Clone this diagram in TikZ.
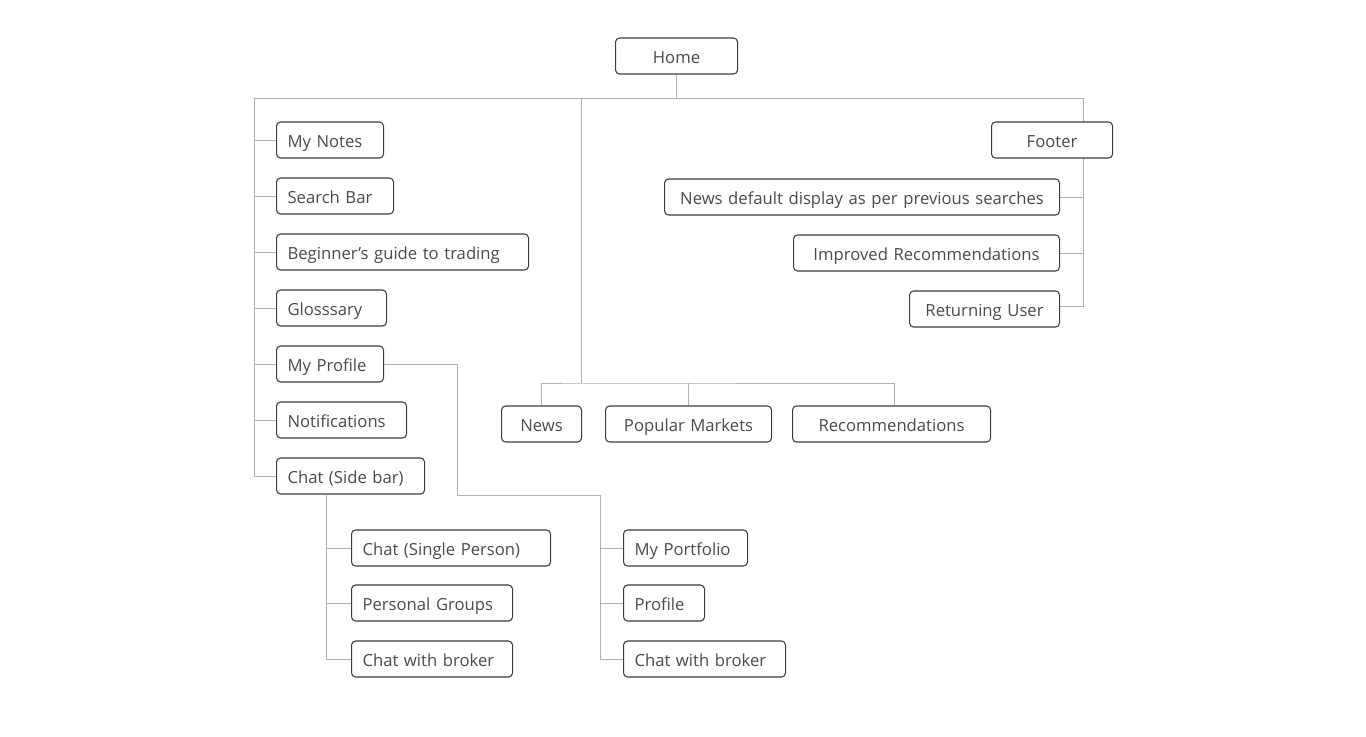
\documentclass[tikz,border=0pt]{standalone}
\usepackage{fontspec}
\setmainfont{Open Sans}
\usetikzlibrary{backgrounds}

\definecolor{boxline}{HTML}{3C3C3C}
\definecolor{wirecol}{HTML}{B0B0B0}
\definecolor{labeltxt}{HTML}{4A4A4A}

\tikzset{
    page/.style={draw=boxline, line width=0.8pt, rounded corners=3pt, fill=white,
        text=labeltxt, minimum height=27pt, inner xsep=8.25pt, inner ysep=0pt,
        text height=10.5pt, text depth=0pt,
        anchor=west, align=left, font=\fontsize{12.5}{15}\selectfont},
    midpage/.style={page, align=center},
    wire/.style={draw=wirecol, line width=0.75pt},
}

\begin{document}
\begin{tikzpicture}[x=0.75pt, y=-0.75pt]
    \useasboundingbox (0,0) rectangle (1366,736);

    \node[midpage, text width=75pt] (home) at (615,56) {Home};

    % left column
    \node[page, text width=63.75pt] (notes) at (276,140) {My Notes};
    \node[page, text width=71.25pt] (search) at (276,196) {Search Bar};
    \node[page, text width=172.5pt] (guide) at (276,252) {Beginner’s guide to trading};
    \node[page, text width=66pt] (gloss) at (276,308) {Glosssary};
    \node[page, text width=63.75pt] (myprofile) at (276,364) {My Profile};
    \node[page, text width=81pt] (notif) at (276,420) {Notifications};
    \node[page, text width=94.5pt] (chatside) at (276,476) {Chat (Side bar)};

    \node[page, text width=132.75pt] (single) at (351,548) {Chat (Single Person)};
    \node[page, text width=104.25pt] (groups) at (351,603) {Personal Groups};
    \node[page, text width=104.25pt] (broker) at (351,659) {Chat with broker};

    \node[page, text width=76.5pt] (portfolio) at (623,548) {My Portfolio};
    \node[page, text width=44.25pt] (profile) at (623,603) {Profile};
    \node[page, text width=105pt] (pbroker) at (623,659) {Chat with broker};

    % middle row
    \node[midpage, text width=43.5pt] (news) at (501,424) {News};
    \node[midpage, text width=108pt] (markets) at (605,424) {Popular Markets};
    \node[midpage, text width=132pt] (recs) at (792,424) {Recommendations};

    % right column
    \node[midpage, text width=74.25pt] (footer) at (991,140) {Footer};
    \node[midpage, text width=279.75pt] (newsdef) at (664,197) {News default display as per previous searches};
    \node[midpage, text width=183pt] (improved) at (793,253) {Improved Recommendations};
    \node[midpage, text width=96pt] (returning) at (909,309) {Returning User};

    \coordinate (busL) at (254,98);
    \coordinate (busM) at (581,98);
    \coordinate (busR) at (1083,98);
    \coordinate (busEnd) at (1083,306);
    \coordinate (row) at (581,383);
    \coordinate (ccol) at (326,495);
    \coordinate (pjoint) at (457,495);
    \coordinate (pcol) at (600,495);

    \begin{scope}[on background layer]
        \draw[wire] (busL) -- (busR);
        \draw[wire] (home) -- (home |- busL);

        \draw[wire] (busL) |- (chatside.west);
        \foreach \n in {notes,search,guide,gloss,myprofile,notif}
            \draw[wire] (busL |- \n.west) -- (\n.west);

        \draw[wire] (ccol) |- (broker.west);
        \foreach \n in {single,groups}
            \draw[wire] (ccol |- \n.west) -- (\n.west);

        \draw[wire] (myprofile.east) -| (pjoint) -- (pcol) |- (pbroker.west);
        \foreach \n in {portfolio,profile}
            \draw[wire] (pcol |- \n.west) -- (\n.west);

        \draw[wire] (busM) -- (row);
        \draw[wire] (news.north) |- (row) -| ([xshift=2.25pt]recs.north);
        \draw[wire] (markets.north) -- (markets.north |- row);

        \draw[wire] (busR) |- (busEnd -| returning.east);
        \foreach \n in {newsdef,improved}
            \draw[wire] (busR |- \n.east) -- (\n.east);
    \end{scope}
\end{tikzpicture}
\end{document}
